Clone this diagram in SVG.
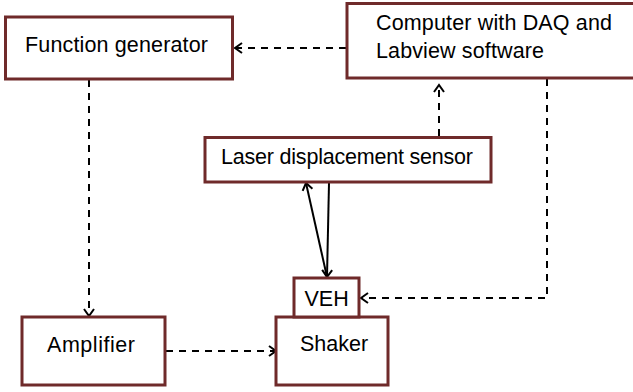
<svg xmlns="http://www.w3.org/2000/svg" width="633" height="392" viewBox="0 0 633 392">
<style>
.box{fill:#fff;stroke:#6f2a2a;stroke-width:3}
.t{font-family:"Liberation Sans",Arial,sans-serif;font-size:21.5px;fill:#000}
.d{fill:none;stroke:#000;stroke-width:2;stroke-dasharray:7 6}
.s{fill:none;stroke:#000;stroke-width:2}
</style>
<defs>
<marker id="a" markerUnits="userSpaceOnUse" markerWidth="14" markerHeight="14" viewBox="0 0 14 14" refX="12" refY="7" orient="auto">
<path d="M5,2 L12,7 L5,12" fill="none" stroke="#000" stroke-width="2"/>
</marker>
</defs>
<rect width="633" height="392" fill="#fff"/>
<g id="connectors">
<line class="d" x1="346" y1="48" x2="235" y2="48" marker-end="url(#a)"/>
<line class="d" x1="89" y1="80" x2="89" y2="316" marker-end="url(#a)"/>
<line class="d" x1="166" y1="351" x2="276" y2="351" marker-end="url(#a)"/>
<line class="d" x1="439" y1="136" x2="439" y2="85" marker-end="url(#a)"/>
<path class="d" d="M547,79 V298 H361" marker-end="url(#a)"/>
<line class="s" x1="327" y1="277" x2="306" y2="183" marker-end="url(#a)"/>
<line class="s" x1="329" y1="183" x2="327" y2="277" marker-end="url(#a)"/>
</g>
<g id="function-generator">
<rect class="box" x="5.5" y="17" width="227" height="62"/>
<text class="t" x="25" y="52" textLength="183">Function generator</text>
</g>
<g id="computer">
<rect class="box" x="347" y="3.5" width="295" height="74.5"/>
<text class="t" x="376" y="30" textLength="236">Computer with DAQ and</text>
<text class="t" x="376" y="58" textLength="168">Labview software</text>
</g>
<g id="laser-sensor">
<rect class="box" x="205" y="137.5" width="286" height="44.5"/>
<text class="t" x="221" y="164" textLength="252">Laser displacement sensor</text>
</g>
<g id="amplifier">
<rect class="box" x="22" y="317" width="143" height="68"/>
<text class="t" x="47" y="351.5" textLength="88">Amplifier</text>
</g>
<g id="shaker">
<rect class="box" x="276" y="317" width="112" height="68"/>
<text class="t" x="300" y="350.5">Shaker</text>
</g>
<g id="veh">
<rect class="box" x="294" y="278" width="65" height="39"/>
<text class="t" x="304.5" y="305.5" font-size="20">VEH</text>
</g>
</svg>
